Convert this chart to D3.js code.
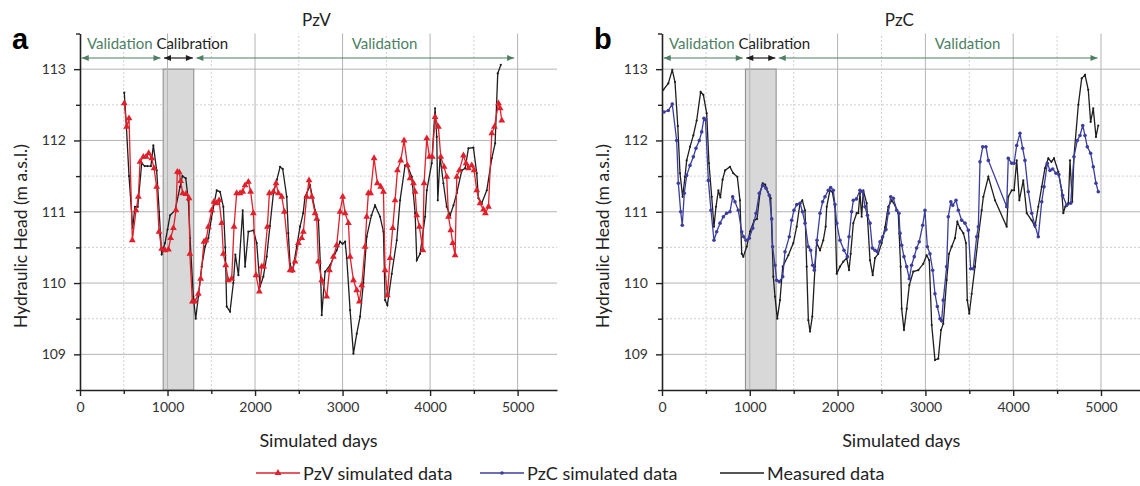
<!DOCTYPE html>
<html>
<head>
<meta charset="utf-8">
<script src="https://d3js.org/d3.v7.min.js"></script>
<style>
body{margin:0;background:#fff;}
svg text{font-family:Lato,"Open Sans",sans-serif;}
</style>
</head>
<body>
<svg id="chart" width="1140" height="486"></svg>
<script>
// [day, head] pairs
var pzvSimulated = [[506,112.52],[533,112.19],[560,112.31],[598,110.6],[640,111.02],[667,111.21],[686,111.7],[724,111.77],[755,111.77],[785,111.82],[819,111.75],[846,111.61],[876,111.35],[903,110.72],[933,110.48],[971,110.46],[1010,110.47],[1036,110.63],[1067,110.77],[1097,111.02],[1112,111.56],[1135,111.55],[1150,111.43],[1173,111.26],[1211,111.25],[1246,111.19],[1255,110.41],[1284,109.74],[1314,109.74],[1352,109.85],[1379,110.06],[1417,110.58],[1440,110.6],[1467,110.79],[1505,111.02],[1531,111.14],[1562,111.12],[1589,111.16],[1619,110.84],[1638,110.41],[1665,110.25],[1695,110.04],[1733,110.06],[1760,110.79],[1790,111.26],[1829,111.26],[1859,111.28],[1886,111.37],[1924,111.42],[1950,111.28],[1981,110.98],[2011,110.11],[2049,109.88],[2076,110.23],[2099,110.23],[2141,110.79],[2164,111.26],[2210,111.28],[2240,111.4],[2267,111.26],[2305,111.21],[2335,111.0],[2400,110.18],[2427,110.18],[2457,110.3],[2495,110.56],[2533,110.63],[2552,110.72],[2590,111.21],[2617,111.44],[2648,111.21],[2686,110.98],[2705,110.9],[2724,110.3],[2762,110.04],[2819,109.81],[2850,110.18],[2895,110.37],[2933,110.53],[2971,111.0],[3002,111.21],[3029,110.98],[3067,110.84],[3086,110.37],[3124,110.04],[3162,109.9],[3192,109.74],[3219,109.97],[3257,110.51],[3276,110.93],[3295,111.26],[3320,111.26],[3360,111.75],[3398,111.4],[3436,111.35],[3467,111.28],[3486,110.18],[3512,109.83],[3543,110.35],[3573,110.77],[3600,111.16],[3627,111.58],[3665,111.72],[3703,112.0],[3741,111.65],[3771,111.47],[3810,111.4],[3829,111.28],[3848,110.95],[3878,110.79],[3917,110.46],[3931,111.4],[3962,112.03],[3992,111.77],[4025,111.77],[4057,112.33],[4095,112.19],[4122,111.77],[4160,111.63],[4190,111.49],[4210,110.93],[4237,110.74],[4259,110.56],[4286,110.39],[4305,111.49],[4335,111.58],[4381,111.79],[4411,111.68],[4438,111.61],[4476,111.65],[4503,111.58],[4533,111.3],[4571,111.12],[4610,111.03],[4632,110.98],[4667,111.07],[4705,112.1],[4735,112.19],[4781,112.52],[4800,112.45],[4819,112.28]];

var pzvMeasured = [[506,112.67],[530,112.2],[560,111.5],[602,110.77],[628,111.07],[660,111.07],[705,111.68],[740,111.64],[770,111.64],[810,111.64],[838,111.93],[876,111.58],[905,111.0],[933,110.4],[971,110.56],[1000,110.75],[1029,110.95],[1086,111.02],[1143,111.35],[1170,111.5],[1208,111.47],[1238,111.16],[1257,110.63],[1295,109.81],[1322,109.5],[1352,109.81],[1390,110.23],[1429,110.51],[1467,110.63],[1500,110.9],[1530,111.1],[1562,111.3],[1600,111.28],[1638,111.07],[1660,110.5],[1676,109.67],[1714,109.6],[1752,110.0],[1775,110.4],[1810,110.11],[1859,111.02],[1886,110.23],[1924,110.72],[1981,110.74],[2019,110.56],[2057,109.95],[2095,110.09],[2133,110.37],[2170,110.8],[2210,111.26],[2250,111.45],[2286,111.63],[2316,111.6],[2362,111.21],[2380,110.7],[2400,110.27],[2427,110.16],[2476,110.51],[2514,110.79],[2550,110.98],[2571,111.21],[2629,111.37],[2686,111.02],[2724,110.88],[2745,110.3],[2762,109.55],[2800,110.16],[2857,110.25],[2933,110.46],[2971,110.58],[3000,110.55],[3029,110.58],[3048,110.35],[3086,109.62],[3124,109.01],[3162,109.29],[3200,109.53],[3238,110.0],[3276,110.65],[3330,110.95],[3371,111.09],[3429,110.93],[3467,110.72],[3486,109.76],[3512,109.69],[3562,110.13],[3619,110.6],[3657,111.16],[3714,111.65],[3738,111.66],[3791,111.49],[3829,110.98],[3848,110.32],[3886,110.41],[3943,110.93],[3962,111.3],[4019,111.68],[4057,112.45],[4076,112.05],[4088,111.16],[4114,111.77],[4152,111.4],[4190,111.07],[4229,110.95],[4267,111.09],[4305,111.26],[4362,111.58],[4400,111.61],[4438,111.89],[4495,111.9],[4533,111.54],[4552,111.19],[4590,111.12],[4648,111.3],[4705,111.75],[4743,111.96],[4773,112.94],[4808,113.06]];

var pzcSimulated = [[23,112.4],[72,112.42],[117,112.51],[167,112.0],[186,111.4],[213,111.0],[231,110.81],[254,111.26],[281,111.51],[319,111.65],[357,111.77],[387,111.89],[425,112.0],[452,112.12],[478,112.31],[495,112.29],[528,111.44],[558,111.02],[592,110.6],[623,110.72],[661,110.84],[699,110.93],[736,110.98],[774,111.0],[805,111.21],[831,111.14],[869,111.02],[908,110.72],[930,110.65],[957,110.6],[994,110.63],[1033,110.77],[1071,110.98],[1108,111.26],[1147,111.37],[1185,111.33],[1222,111.23],[1250,110.9],[1260,110.51],[1287,110.25],[1306,110.04],[1336,110.02],[1375,110.09],[1401,110.44],[1450,110.65],[1477,110.88],[1503,111.02],[1535,111.1],[1572,111.12],[1600,111.0],[1629,110.84],[1667,110.51],[1693,110.46],[1716,110.25],[1735,110.18],[1765,110.6],[1800,110.98],[1830,111.14],[1856,111.21],[1894,111.3],[1921,111.34],[1951,111.3],[1970,111.1],[1990,110.84],[2027,110.6],[2073,110.46],[2111,110.37],[2130,110.65],[2160,111.0],[2179,111.16],[2215,111.18],[2255,111.3],[2286,111.28],[2312,111.07],[2340,110.95],[2369,110.84],[2396,110.49],[2426,110.46],[2452,110.44],[2483,110.58],[2513,110.65],[2551,110.75],[2577,110.98],[2605,111.21],[2635,111.19],[2673,111.02],[2699,110.98],[2711,110.7],[2730,110.53],[2756,110.37],[2787,110.23],[2817,110.06],[2843,110.25],[2873,110.37],[2900,110.49],[2930,110.58],[2969,110.81],[2995,111.02],[3022,110.51],[3052,110.41],[3083,110.18],[3109,109.85],[3136,109.67],[3166,109.5],[3185,109.47],[3204,109.76],[3242,110.23],[3261,110.93],[3290,111.14],[3311,111.09],[3349,111.16],[3375,111.02],[3413,110.88],[3451,110.84],[3489,110.74],[3516,110.2],[3545,110.2],[3584,110.65],[3603,110.79],[3622,111.7],[3653,111.91],[3690,111.91],[3717,111.72],[3926,111.07],[3944,111.75],[3983,111.68],[4010,111.68],[4040,111.93],[4077,112.1],[4108,111.89],[4134,111.72],[4172,111.28],[4211,110.98],[4248,110.81],[4286,110.65],[4325,111.14],[4351,111.35],[4389,111.68],[4419,111.58],[4450,111.6],[4487,111.54],[4520,111.52],[4563,111.23],[4609,111.09],[4655,111.12],[4692,111.77],[4730,112.0],[4761,112.07],[4792,112.21],[4818,112.07],[4844,111.91],[4882,111.82],[4912,111.63],[4943,111.4],[4969,111.28]];

var pzcMeasured = [[15,112.71],[72,112.8],[117,112.99],[148,112.82],[180,112.2],[205,111.54],[235,111.21],[262,111.49],[281,111.72],[319,111.91],[357,112.07],[395,112.28],[440,112.68],[471,112.64],[509,112.38],[535,111.68],[566,111.21],[592,110.79],[615,111.07],[642,111.3],[665,111.2],[690,111.45],[718,111.58],[774,111.63],[812,111.54],[858,111.49],[888,111.16],[908,110.41],[926,110.37],[965,110.51],[1002,110.72],[1051,110.88],[1082,110.9],[1116,111.26],[1147,111.4],[1175,111.38],[1204,111.28],[1238,111.19],[1268,110.09],[1287,109.81],[1313,109.5],[1344,109.76],[1375,110.23],[1439,110.39],[1496,110.56],[1534,110.79],[1572,111.12],[1598,111.16],[1629,111.02],[1648,110.23],[1667,109.48],[1686,109.32],[1712,109.53],[1743,110.23],[1762,110.56],[1800,110.46],[1837,110.6],[1864,110.79],[1876,111.07],[1913,111.3],[1940,111.28],[1970,111.07],[1990,110.13],[2027,110.23],[2065,110.3],[2104,110.35],[2130,110.18],[2149,110.41],[2179,110.84],[2217,110.98],[2236,110.98],[2255,111.26],[2274,110.93],[2293,111.3],[2331,111.12],[2369,110.32],[2400,110.11],[2426,110.35],[2463,110.41],[2502,110.56],[2540,110.78],[2577,111.07],[2616,111.16],[2654,111.09],[2691,110.98],[2718,110.23],[2730,109.64],[2756,109.34],[2787,109.64],[2817,109.97],[2862,110.16],[2919,110.18],[2976,110.27],[3014,110.39],[3044,110.32],[3072,109.41],[3109,108.92],[3147,108.94],[3178,109.34],[3204,109.43],[3242,110.04],[3269,110.41],[3299,110.51],[3337,110.63],[3364,110.86],[3394,110.77],[3432,110.7],[3462,110.56],[3477,109.76],[3500,109.57],[3527,109.85],[3565,110.23],[3603,110.65],[3641,111.02],[3660,111.21],[3717,111.49],[3793,111.16],[3926,110.79],[3944,111.21],[3983,111.3],[4010,111.3],[4040,111.72],[4070,111.16],[4115,111.44],[4154,110.98],[4211,110.88],[4248,110.79],[4286,111.07],[4325,111.35],[4362,111.61],[4400,111.75],[4435,111.7],[4465,111.75],[4514,111.56],[4552,111.3],[4571,110.98],[4593,111.07],[4628,111.12],[4647,111.72],[4673,111.14],[4692,111.77],[4742,112.5],[4780,112.87],[4818,112.92],[4855,112.71],[4882,112.26],[4912,112.45],[4943,112.05],[4969,112.21]];

var xTicks = d3.range(0, 5001, 500);
var yTicks = d3.range(108.5, 113.51, 0.5);
var calibration = [950, 1300];
// period arrows along the top: [from, to, label]
var periods = [[20, 920, "Validation"], [960, 1290, "Calibration"], [1330, 4960, "Validation"]];
var legendLabels = ["PzV simulated data", "PzC simulated data", "Measured data"];

var red = "#e0202b", blue = "#3b3e9e", black = "#1e1e1e", green = "#4d7f63";

var svg = d3.select("#chart");

function drawPanel(opt) {
    var x = d3.scaleLinear().domain([0, 5450]).range([opt.left, opt.right]);
    var y = d3.scaleLinear().domain([108.5, 113.5]).range([390, 33.5]);
    var g = svg.append("g");

    // horizontal grid
    g.selectAll(".hg").data(yTicks.filter(function(d){ return d > 108.5 && d < 113.5; }))
        .enter().append("line")
        .attr("x1", x(0)).attr("x2", x(5450))
        .attr("y1", function(d){ return y(d); }).attr("y2", function(d){ return y(d); })
        .attr("stroke", function(d){ return d % 1 == 0 ? "#b4b4b4" : "#cfcfcf"; })
        .attr("stroke-width", 1)
        .attr("stroke-dasharray", function(d){ return d % 1 == 0 ? null : "2,2"; });

    // calibration window
    g.append("rect")
        .attr("x", x(calibration[0])).attr("y", y(113))
        .attr("width", x(calibration[1]) - x(calibration[0]))
        .attr("height", y(108.5) - y(113))
        .attr("fill", "#d8d8d8").attr("stroke", "#8a8a8a").attr("stroke-width", 1);

    // vertical grid
    g.selectAll(".vg").data(xTicks.filter(function(d){ return d > 0; }))
        .enter().append("line")
        .attr("x1", function(d){ return x(d); }).attr("x2", function(d){ return x(d); })
        .attr("y1", y(108.5)).attr("y2", y(113.5))
        .attr("stroke", function(d){ return d % 1000 == 0 ? "#b4b4b4" : "#cfcfcf"; })
        .attr("stroke-dasharray", function(d){ return d % 1000 == 0 ? null : "2,2"; });

    // axes
    var ya = g.append("g").attr("transform", "translate(" + x(0) + ",0)")
        .call(d3.axisLeft(y).tickValues(yTicks).tickSize(6).tickPadding(8).tickSizeOuter(0)
            .tickFormat(function(d){ return d % 1 == 0 ? d : ""; }));
    var xa = g.append("g").attr("transform", "translate(0," + y(108.5) + ")")
        .call(d3.axisBottom(x).tickValues(xTicks).tickSize(6).tickPadding(6).tickSizeOuter(0)
            .tickFormat(function(d){ return d % 1000 == 0 ? d : ""; }));
    [ya, xa].forEach(function(a){
        a.select(".domain").attr("stroke", "#222").attr("stroke-width", 1.6);
        a.selectAll(".tick line").attr("stroke", "#222").attr("stroke-width", 1.4);
        a.selectAll(".tick text").attr("font-size", 14).attr("fill", "#333")
            .style("font-family", "Lato, sans-serif");
    });
    ya.selectAll(".tick line").attr("x2", function(d){ return d % 1 == 0 ? -6 : -4; });
    xa.selectAll(".tick line").attr("y2", function(d){ return d % 1000 == 0 ? 6 : 4; });

    // period arrows
    var ay = 58;
    periods.forEach(function(p){
        var c = p[2] == "Calibration" ? black : green;
        var x1 = x(p[0]), x2 = x(p[1]);
        g.append("line").attr("x1", x1).attr("x2", x2).attr("y1", ay).attr("y2", ay)
            .attr("stroke", c).attr("stroke-width", 1.2);
        g.append("path").attr("d", "M" + x1 + "," + ay + "l7,-3l0,6z").attr("fill", c);
        g.append("path").attr("d", "M" + x2 + "," + ay + "l-7,-3l0,6z").attr("fill", c);
    });
    var lab = g.append("text").attr("x", x(0) + 7).attr("y", 49).attr("font-size", 15);
    lab.append("tspan").attr("fill", green).text(periods[0][2] + " ");
    lab.append("tspan").attr("fill", black).text(periods[1][2]);
    g.append("text").attr("x", x(3480)).attr("y", 49).attr("text-anchor", "middle")
        .attr("font-size", 15).attr("fill", green).text(periods[2][2]);

    // series
    var line = d3.line().x(function(d){ return x(d[0]); }).y(function(d){ return y(d[1]); });
    g.append("path").datum(opt.measured).attr("d", line)
        .attr("fill", "none").attr("stroke", black).attr("stroke-width", 1.3);
    g.selectAll(".md").data(opt.measured).enter().append("circle")
        .attr("cx", function(d){ return x(d[0]); }).attr("cy", function(d){ return y(d[1]); })
        .attr("r", 1.1).attr("fill", black);

    g.append("path").datum(opt.simulated).attr("d", line)
        .attr("fill", "none").attr("stroke", opt.color).attr("stroke-width", 1.3);
    if (opt.marker == "triangle") {
        g.selectAll(".sm").data(opt.simulated).enter().append("path")
            .attr("d", d3.symbol(d3.symbolTriangle, 20))
            .attr("transform", function(d){ return "translate(" + x(d[0]) + "," + y(d[1]) + ")"; })
            .attr("fill", opt.color);
    } else {
        g.selectAll(".sm").data(opt.simulated).enter().append("circle")
            .attr("cx", function(d){ return x(d[0]); }).attr("cy", function(d){ return y(d[1]); })
            .attr("r", 1.8).attr("fill", opt.color);
    }

    // titles
    var mid = (x(0) + x(5450)) / 2;
    g.append("text").attr("x", mid - 2).attr("y", 26).attr("text-anchor", "middle")
        .attr("font-size", 17).attr("fill", "#222").text(opt.title);
    g.append("text").attr("x", x(0) - 68).attr("y", 49)
        .style("font-family", "'Liberation Sans', Arial, sans-serif")
        .attr("font-size", 29).attr("font-weight", "bold").attr("fill", "#000").text(opt.letter);
    g.append("text").attr("x", mid).attr("y", 447).attr("text-anchor", "middle")
        .attr("font-size", 18).attr("fill", "#222").text("Simulated days");
    g.append("text").attr("transform", "translate(" + (x(0) - 53) + ",236) rotate(-90)")
        .attr("text-anchor", "middle").attr("font-size", 17.5).attr("fill", "#222")
        .text("Hydraulic Head (m a.s.l.)");
}

drawPanel({left: 80, right: 557, measured: pzvMeasured, simulated: pzvSimulated, color: red,
    marker: "triangle", title: "PzV", letter: "a"});
drawPanel({left: 662, right: 1140.5, measured: pzcMeasured, simulated: pzcSimulated, color: blue,
    marker: "dot", title: "PzC", letter: "b"});

// legend
var leg = svg.append("g");
var legColors = [red, blue, black];
var legX = [256, 480, 720];
legendLabels.forEach(function(t, i){
    var lx = legX[i], ly = 473;
    leg.append("line").attr("x1", lx).attr("x2", lx + 44).attr("y1", ly).attr("y2", ly)
        .attr("stroke", legColors[i]).attr("stroke-width", 1.4);
    if (i == 0) leg.append("path").attr("d", d3.symbol(d3.symbolTriangle, 20))
        .attr("transform", "translate(" + (lx + 22) + "," + ly + ")").attr("fill", red);
    if (i == 1) leg.append("circle").attr("cx", lx + 22).attr("cy", ly).attr("r", 1.8).attr("fill", blue);
    leg.append("text").attr("x", lx + 47).attr("y", ly + 7).attr("font-size", 18)
        .attr("fill", "#222").text(t);
});
</script>
</body>
</html>
